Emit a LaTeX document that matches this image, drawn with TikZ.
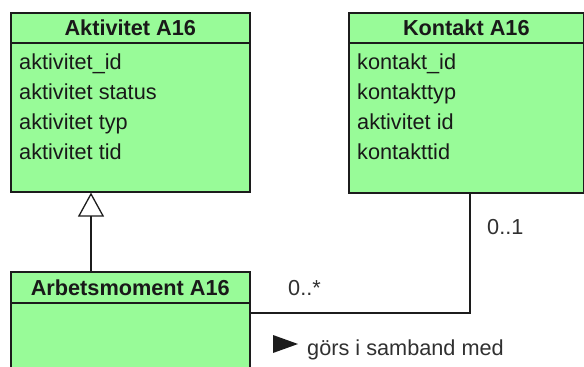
\documentclass[tikz,border=0pt]{standalone}
\usepackage{fontspec}
\setmainfont{Liberation Sans}
\usetikzlibrary{arrows.meta}
\definecolor{classfill}{RGB}{152,251,152}
\definecolor{edge}{RGB}{28,28,28}
\definecolor{ink}{RGB}{25,25,25}
\begin{document}
\begin{tikzpicture}[x=1pt,y=-1pt,
  box/.style={draw=edge, line width=1.6pt, fill=classfill, inner sep=0pt, anchor=north west},
  head/.style={font=\fontsize{21.7}{26}\selectfont\bfseries, text=ink},
  attr/.style={font=\fontsize{21.7}{26}\selectfont, anchor=base west, text=ink, inner sep=0pt},
  lbl/.style={font=\fontsize{21.7}{26}\selectfont, anchor=base west, text=ink!90, inner sep=0pt},
  wire/.style={draw=edge, line width=1.3pt}]
\useasboundingbox (0,0) rectangle (584,367);

% class Aktivitet A16
\node[box, minimum width=239pt, minimum height=30pt]  (akth) at (10,12) {};
\node[box, minimum width=239pt, minimum height=149pt] (aktb) at (10,42) {};
\node[head] (aktt) at (akth.center) {Aktivitet A16};
\node[attr] (akt1) at (19,69)  {aktivitet\_id};
\node[attr] (akt2) at (19,99)  {aktivitet status};
\node[attr] (akt3) at (19,129) {aktivitet typ};
\node[attr] (akt4) at (19,159) {aktivitet tid};

% class Kontakt A16
\node[box, minimum width=235pt, minimum height=30pt]  (konh) at (348,12) {};
\node[box, minimum width=235pt, minimum height=150pt] (konb) at (348,42) {};
\node[head] (kont) at (konh.center) {Kontakt A16};
\node[attr] (kon1) at (357,69)  {kontakt\_id};
\node[attr] (kon2) at (357,99)  {kontakttyp};
\node[attr] (kon3) at (357,129) {aktivitet id};
\node[attr] (kon4) at (357,159) {kontakttid};

% class Arbetsmoment A16
\node[box, minimum width=239pt, minimum height=31pt] (arbh) at (10,271) {};
\node[box, minimum width=239pt, minimum height=90pt] (arbb) at (10,302) {};
\node[head] (arbt) at (arbh.center) {Arbetsmoment A16};

% generalization Arbetsmoment -> Aktivitet
\coordinate (gen) at (91,0);
\draw[wire, -{Triangle[open, width=26pt, length=24pt, line width=1.3pt]}]
  (arbh.north -| gen) -- (aktb.south -| gen);

% association Arbetsmoment -- Kontakt
\coordinate (bend) at (470,313);
\draw[wire] (arbb.east |- bend) -- (bend) -- (konb.south -| bend);
\node[lbl] (mul1) at (487,234) {0..1};
\node[lbl] (mul2) at (288,295) {0..*};

% association name with reading direction
\node[lbl] (assoc) at (307,355) {görs i samband med};
\fill[edge] (273,335) -- (298,344) -- (273,353) -- cycle;
\end{tikzpicture}
\end{document}
